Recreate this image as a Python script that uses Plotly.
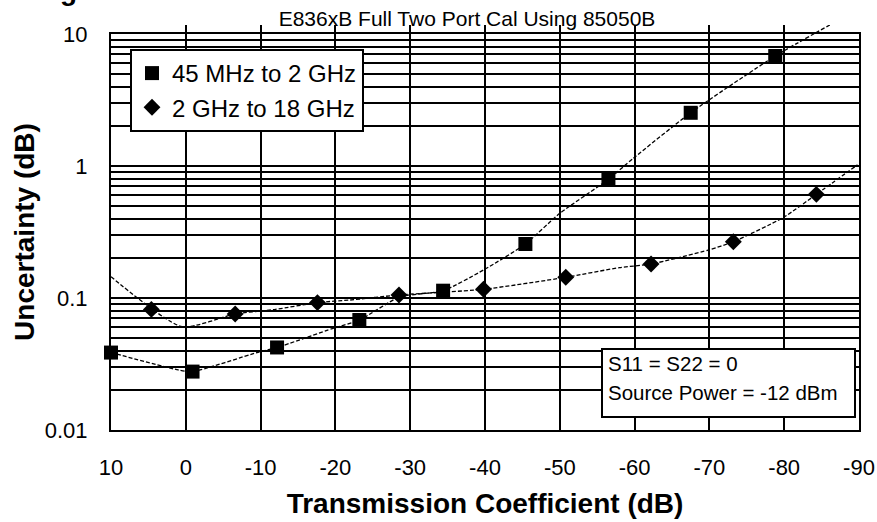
import plotly.graph_objects as go

# ---- data ----
# 45 MHz to 2 GHz (square markers)
sq_x = [10, -0.9, -12.2, -23.2, -34.4, -45.4, -56.5, -67.5, -78.8]
sq_y = [0.0386, 0.0277, 0.0422, 0.0681, 0.1136, 0.2565, 0.793, 2.53, 6.81]
# 2 GHz to 18 GHz (diamond markers)
di_x = [4.6, -6.6, -17.6, -28.5, -39.8, -50.8, -62.2, -73.2, -84.3]
di_y = [0.082, 0.0757, 0.0923, 0.1054, 0.1164, 0.1435, 0.181, 0.267, 0.61]

# traced curves drawn through the markers
sq_curve_x = [10, 1.0, -0.9, -9.5, -12.2, -19.7, -23.2, -28.6, -34.4, -39.8,
              -45.4, -50.0, -56.5, -59.8, -67.5, -78.8, -86.1]
sq_curve_y = [0.0386, 0.0285, 0.0277, 0.0386, 0.0422, 0.0589, 0.0681, 0.1018,
              0.1136, 0.163, 0.2565, 0.438, 0.793, 1.14, 2.53, 6.81, 11.7]
di_curve_x = [10, 0.5, -6.6, -12.0, -17.6, -22.0, -28.5, -39.8, -50.8, -58.0,
              -62.2, -69.9, -73.2, -79.9, -84.3, -89.8]
di_curve_y = [0.145, 0.0606, 0.0757, 0.082, 0.0923, 0.0966, 0.1054, 0.1164,
              0.1435, 0.170, 0.181, 0.231, 0.267, 0.408, 0.61, 1.02]

series_names = ["45 MHz to 2 GHz", "2 GHz to 18 GHz"]

x_tick_vals = [10, 0, -10, -20, -30, -40, -50, -60, -70, -80, -90]
x_tick_text = ["10", "0", "-10", "-20", "-30", "-40", "-50", "-60", "-70", "-80", "-90"]
y_tick_vals = [0.01, 0.1, 1, 10]
y_tick_text = ["0.01", "0.1", "1", "10"]

chart_title = "E836xB Full Two Port Cal Using 85050B"
x_title = "Transmission Coefficient (dB)"
y_title = "Uncertainty (dB)"
note_lines = ["S11 = S22 = 0", "Source Power = -12 dBm"]
clipped_heading = "g"   # bottom of a heading glyph cut off at the top edge

FONT = "Liberation Sans, Arial, sans-serif"

# ---- layout geometry (page pixels; body margin removed in the page) ----
W, H = 877, 522
frame_left, frame_right, frame_top, frame_bottom = 111, 859, 34, 430
head_top = 25                      # headroom above the frame for the rising curve
L = frame_left
R = W - frame_right
T = head_top
B = H - frame_bottom
plot_w = W - L - R
plot_h = H - T - B
main_dom_top = (frame_bottom - frame_top) / plot_h
px_per_dec = (frame_bottom - frame_top) / 3.0
y2_top = -2 + plot_h / px_per_dec

def px(xp):
    return (xp - frame_left) / plot_w

def py(yp):
    return (frame_bottom - yp) / plot_h

fig = go.Figure()

line_style = dict(color="black", width=1.3, dash="4px,2px", shape="spline", smoothing=0.6)
fig.add_trace(go.Scatter(x=sq_curve_x, y=sq_curve_y, mode="lines", line=line_style,
                         yaxis="y2", showlegend=False, hoverinfo="skip"))
fig.add_trace(go.Scatter(x=di_curve_x, y=di_curve_y, mode="lines", line=line_style,
                         yaxis="y2", showlegend=False, hoverinfo="skip"))

fig.add_trace(go.Scatter(x=sq_x, y=sq_y, mode="markers", name=series_names[0],
                         marker=dict(symbol="square", size=14, color="black"),
                         cliponaxis=False))
fig.add_trace(go.Scatter(x=di_x, y=di_y, mode="markers", name=series_names[1],
                         marker=dict(symbol="diamond", size=13, color="black"),
                         cliponaxis=False))

grid = dict(showgrid=True, gridcolor="black", gridwidth=1.5)

fig.update_layout(
    width=W, height=H,
    margin=dict(l=L, r=R, t=T, b=B, autoexpand=False),
    paper_bgcolor="white",
    plot_bgcolor="rgba(0,0,0,0)",
    font=dict(family=FONT, color="black"),
    title=dict(text=chart_title, x=467 / W, xref="container", xanchor="center",
               y=1 - 19 / H, yref="container", yanchor="middle",
               font=dict(size=21, family=FONT, color="black")),
    xaxis=dict(range=[10, -90], tickvals=x_tick_vals, ticktext=x_tick_text,
               automargin=False,
               showline=True, linecolor="black", linewidth=2, mirror=True,
               zeroline=False, ticks="", ticklabelstandoff=17,
               tickfont=dict(size=22, family=FONT),
               title=dict(text="<b>" + x_title + "</b>", standoff=14,
                          font=dict(size=28, family=FONT)),
               **grid),
    yaxis=dict(type="log", range=[-2, 1], domain=[0, main_dom_top],
               automargin=False,
               tickvals=y_tick_vals, ticktext=y_tick_text,
               showline=True, linecolor="black", linewidth=2, mirror=True,
               ticks="", ticklabelstandoff=17, tickfont=dict(size=22, family=FONT),
               minor=dict(dtick="D1", showgrid=True, gridcolor="black", gridwidth=1.5),
               title=dict(text="<b>" + y_title + "</b>", standoff=2,
                          font=dict(size=28, family=FONT)),
               **grid),
    yaxis2=dict(type="log", range=[-2, y2_top], domain=[0, 1], anchor="x",
                visible=False),
    legend=dict(x=px(130), y=py(49), xanchor="left", yanchor="top",
                bgcolor="white", bordercolor="black", borderwidth=2,
                font=dict(size=24, family=FONT), tracegroupgap=0),
    showlegend=True,
)

fig.add_shape(type="rect", xref="paper", yref="paper",
              x0=px(602), x1=px(855), y0=py(417), y1=py(349),
              fillcolor="white", line=dict(color="black", width=2), layer="above")
for i, t in enumerate(note_lines):
    fig.add_annotation(text=t, xref="paper", yref="paper", x=px(606), y=py(363 + 29 * i),
                       xanchor="left", yanchor="middle", showarrow=False,
                       font=dict(size=20.5, family=FONT, color="black"))

fig.add_annotation(text="<b>" + clipped_heading + "</b>", xref="paper", yref="paper",
                   x=px(68), y=py(8), xanchor="center", yanchor="bottom",
                   showarrow=False, font=dict(size=28, family=FONT, color="black"))

fig.write_html("out.html",
               config={"displayModeBar": False},
               post_script="document.body.style.margin='0';"
                           "document.documentElement.style.overflow='hidden';")
